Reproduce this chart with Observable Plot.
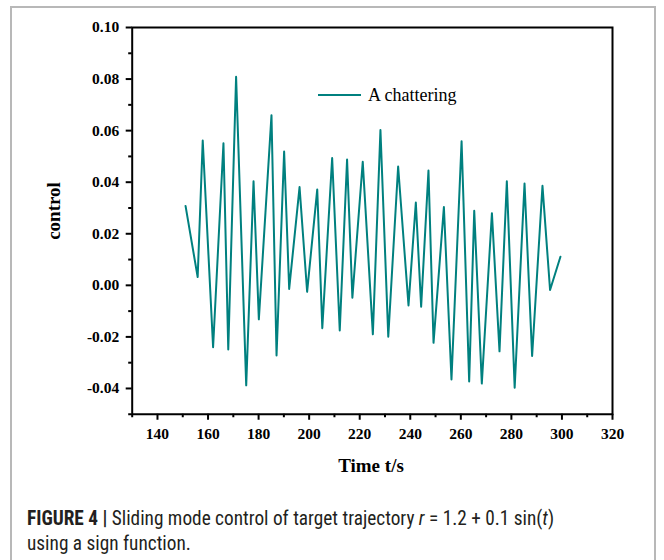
<!DOCTYPE html>
<html>
<head>
<meta charset="utf-8">
<script src="https://cdn.jsdelivr.net/npm/d3@7"></script>
<script src="https://cdn.jsdelivr.net/npm/@observablehq/plot@0.6"></script>
<style>
  html, body { margin: 0; padding: 0; background: #fff; }
  #wrap { position: relative; width: 664px; height: 560px; overflow: hidden; }
  #frame { position: absolute; left: 10px; top: 6px; width: 646px; height: 600px; border: 2px solid #b8b8b8; box-sizing: border-box; }
  #chart { position: absolute; left: 0; top: 0; }
  #caption { position: absolute; left: 27px; top: 506px; width: 630px; font-family: "Liberation Sans Narrow", "Roboto Condensed", "Liberation Sans", Arial, sans-serif; font-size: 19.3px; line-height: 25px; color: #231f20; }
  #caption b { font-weight: bold; }
</style>
</head>
<body>
<div id="wrap">
  <div id="frame"></div>
  <div id="chart"></div>
  <div id="caption"><b>FIGURE 4 |</b> Sliding mode control of target trajectory <i>r</i> = 1.2 + 0.1 sin(<i>t</i>)<br>using a sign function.</div>
</div>
<script>
const time = [151.1,155.9,157.9,162.0,166.1,168.0,171.1,175.1,178.0,180.1,185.1,187.1,190.1,192.1,196.2,199.2,203.2,205.2,209.1,212.1,215.0,217.1,221.2,225.2,228.2,231.3,235.2,239.3,242.2,244.3,247.2,249.2,253.3,256.3,260.3,263.3,265.3,268.3,272.3,275.3,278.2,281.3,285.2,288.2,292.3,295.3,299.4];
const control = [0.0308,0.0032,0.0562,-0.0240,0.0551,-0.0249,0.0809,-0.0388,0.0404,-0.0132,0.0660,-0.0272,0.0519,-0.0014,0.0381,-0.0025,0.0372,-0.0166,0.0494,-0.0175,0.0488,-0.0048,0.0479,-0.0190,0.0602,-0.0199,0.0461,-0.0078,0.0321,-0.0083,0.0445,-0.0223,0.0304,-0.0365,0.0559,-0.0373,0.0289,-0.0381,0.0280,-0.0256,0.0404,-0.0397,0.0395,-0.0274,0.0386,-0.0018,0.0111];
const xMajor = [140,160,180,200,220,240,260,280,300,320];
const xMinor = [130,150,170,190,210,230,250,270,290,310];
const yMajor = [-0.04,-0.02,0.00,0.02,0.04,0.06,0.08,0.10];
const yMinor = [-0.05,-0.03,-0.01,0.01,0.03,0.05,0.07,0.09];
const seriesName = "A chattering";
const xTitle = "Time t/s";
const yTitle = "control";
const lineColor = "#00807f";

const data = time.map((t, i) => ({t, u: control[i]}));

const plot = Plot.plot({
  width: 664,
  height: 480,
  marginLeft: 131.7,
  marginRight: 52,
  marginTop: 27,
  marginBottom: 66.25,
  style: {fontFamily: "'Liberation Serif', 'Times New Roman', serif", fontSize: "15.5px", color: "black", background: "transparent"},
  x: {domain: [130, 320]},
  y: {domain: [-0.05, 0.10]},
  marks: [
    Plot.line(data, {x: "t", y: "u", stroke: lineColor, strokeWidth: 2}),
    Plot.axisX(xMinor, {tickSize: 3.5, strokeWidth: 2, tickFormat: () => "", label: null}),
    Plot.axisX(xMajor, {tickSize: 6, strokeWidth: 2, tickPadding: 8, tickFormat: d => String(d), label: null}),
    Plot.axisY(yMinor, {tickSize: 3.5, strokeWidth: 2, tickFormat: () => "", label: null}),
    Plot.axisY(yMajor, {tickSize: 6, strokeWidth: 2, tickPadding: 7, tickFormat: d => d.toFixed(2), label: null}),
    Plot.frame({stroke: "black", strokeWidth: 2})
  ]
});
document.getElementById("chart").appendChild(plot);

const serif = "font-family: 'Liberation Serif', 'Times New Roman', serif;";
const svg = d3.select(plot);
svg.selectAll("text").attr("style", serif + " font-weight: bold; font-size: 15.5px; fill: #000;");
svg.append("text")
  .attr("x", 371).attr("y", 472)
  .attr("text-anchor", "middle")
  .attr("style", serif + " font-weight: bold; font-size: 19px; fill: #000;")
  .text(xTitle);
svg.append("text")
  .attr("transform", "translate(60,211) rotate(-90)")
  .attr("text-anchor", "middle")
  .attr("style", serif + " font-weight: bold; font-size: 19px; fill: #000;")
  .text(yTitle);
const lg = svg.append("g");
lg.append("line").attr("x1", 318).attr("x2", 361).attr("y1", 95).attr("y2", 95)
  .attr("stroke", lineColor).attr("stroke-width", 2.2);
lg.append("text").attr("x", 368).attr("y", 101)
  .attr("text-anchor", "start")
  .attr("style", serif + " font-weight: normal; font-size: 18px; fill: #000;")
  .text(seriesName);
</script>
</body>
</html>
